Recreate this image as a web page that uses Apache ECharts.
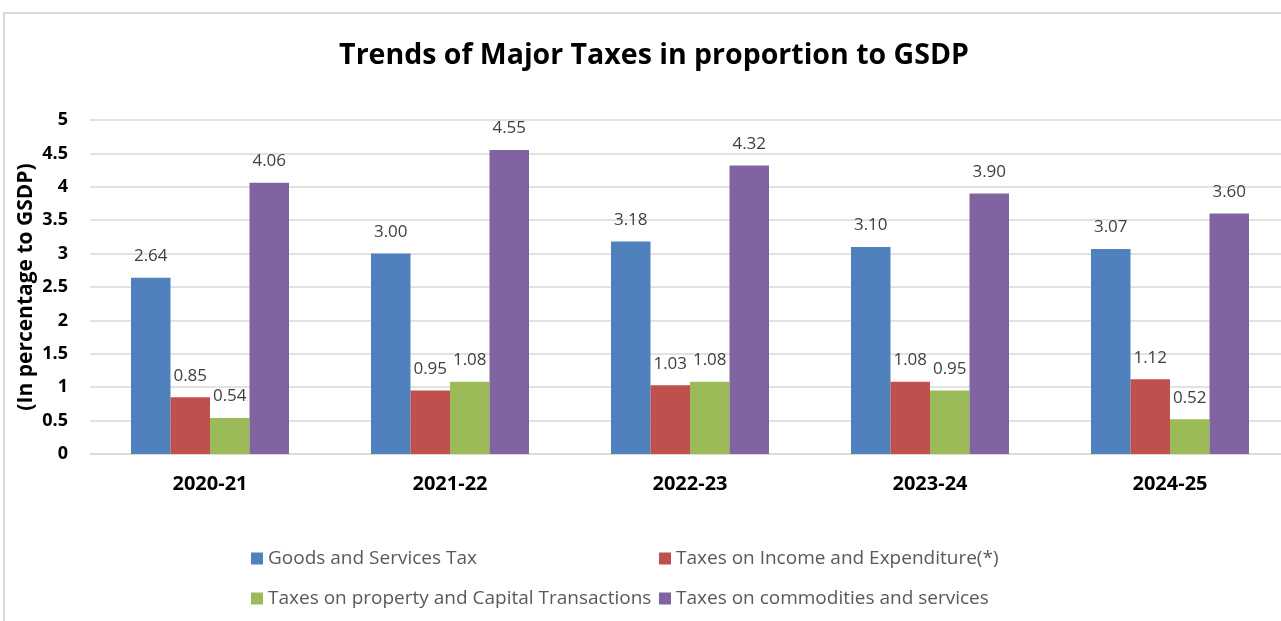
<!DOCTYPE html>
<html>
<head>
<meta charset="utf-8">
<script src="https://cdn.jsdelivr.net/npm/echarts@6/dist/echarts.min.js"></script>
<style>
  html, body { margin: 0; padding: 0; background: #fff; overflow: hidden; width: 1281px; height: 621px; }
  #frame { position: absolute; left: 3px; top: 12px; width: 1400px; height: 700px; border: 2px solid #d9d9d9; box-sizing: border-box; }
  #chart { position: absolute; left: 0; top: 0; width: 1308px; height: 621px; }
</style>
</head>
<body>
<div id="frame"></div>
<div id="chart"></div>
<script>
// Fiscal years on the category axis
const years = ['2020-21', '2021-22', '2022-23', '2023-24', '2024-25'];

// Tax receipts as a percentage of GSDP
const gst = [2.64, 3.00, 3.18, 3.10, 3.07];
const incomeExpenditure = [0.85, 0.95, 1.03, 1.08, 1.12];
const propertyCapital = [0.54, 1.08, 1.08, 0.95, 0.52];
const commodities = [4.06, 4.55, 4.32, 3.90, 3.60];

const seriesNames = [
  'Goods and Services Tax',
  'Taxes on Income and Expenditure(*)',
  'Taxes on property and Capital Transactions',
  'Taxes on commodities and services'
];
const colors = ['#4F81BD', '#C0504D', '#9BBB59', '#8064A2'];
const FONT = '"Open Sans", sans-serif';

const chart = echarts.init(document.getElementById('chart'), null, { renderer: 'canvas' });

function barSeries(name, data, color) {
  return {
    name: name,
    type: 'bar',
    data: data,
    barWidth: 39.5,
    barGap: '0%',
    itemStyle: { color: color },
    label: {
      show: true,
      position: 'top',
      distance: 13,
      color: '#404040',
      fontFamily: FONT,
      fontSize: 17,
      formatter: p => p.value.toFixed(2)
    }
  };
}

const legendText = { color: '#595959', fontFamily: FONT, fontSize: 19 };

function legendColumn(left, names) {
  return {
    orient: 'vertical',
    left: left,
    top: 544,
    padding: 5,
    itemWidth: 12,
    itemHeight: 12,
    itemGap: 21,
    icon: 'rect',
    textStyle: legendText,
    data: names
  };
}

chart.setOption({
  animation: false,
  color: colors,
  title: {
    text: 'Trends of Major Taxes in proportion to GSDP',
    left: 'center',
    top: 36,
    textStyle: { fontFamily: FONT, fontWeight: 'bold', fontSize: 28.5, color: '#000' }
  },
  legend: [
    legendColumn(246, [seriesNames[0], seriesNames[2]]),
    legendColumn(654, [seriesNames[1], seriesNames[3]])
  ],
  grid: { left: 90, top: 120, width: 1200, height: 334, containLabel: false },
  xAxis: {
    type: 'category',
    data: years,
    axisTick: { show: false },
    axisLine: { lineStyle: { color: '#d9d9d9', width: 1.5 } },
    axisLabel: { fontFamily: FONT, fontWeight: 'bold', fontSize: 20, color: '#000', margin: 20 }
  },
  yAxis: {
    type: 'value',
    min: 0,
    max: 5,
    interval: 0.5,
    name: '(In percentage to GSDP)',
    nameLocation: 'middle',
    nameGap: 53,
    nameMoveOverlap: false,
    nameTextStyle: { fontFamily: FONT, fontWeight: 'bold', fontSize: 21, color: '#000' },
    axisLine: { show: false },
    axisTick: { show: false },
    splitLine: { lineStyle: { color: '#d9d9d9', width: 1.5 } },
    axisLabel: { fontFamily: FONT, fontWeight: 'bold', fontSize: 18, color: '#000', margin: 22 }
  },
  series: [
    barSeries(seriesNames[0], gst, colors[0]),
    barSeries(seriesNames[1], incomeExpenditure, colors[1]),
    barSeries(seriesNames[2], propertyCapital, colors[2]),
    barSeries(seriesNames[3], commodities, colors[3])
  ]
});
</script>
</body>
</html>
